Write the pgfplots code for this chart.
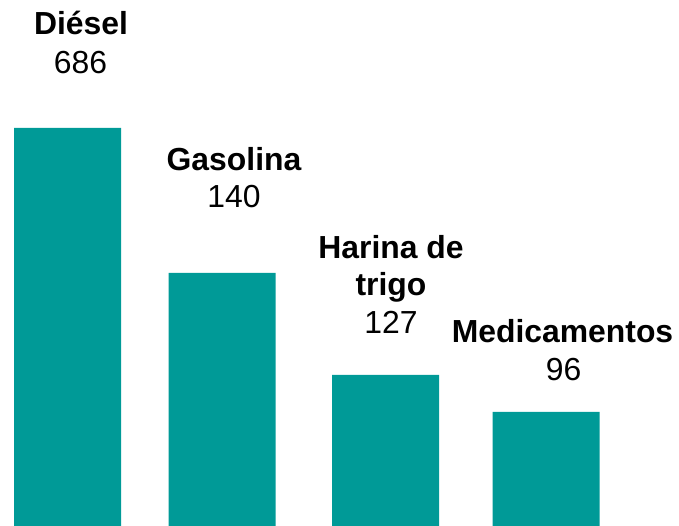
\documentclass[border=0pt]{standalone}
\usepackage{pgfplots}
\pgfplotsset{compat=1.18}
\usepackage{fontspec}
\setmainfont{Liberation Sans}
\definecolor{teal1}{HTML}{009A97}
\begin{document}
\begin{tikzpicture}
\begin{axis}[
  hide axis, scale only axis,
  width=679bp, height=526bp,
  xmin=0, xmax=679, ymin=0, ymax=526,
  clip=false,
  ybar, bar width=107, bar shift=0pt,
]
\path (axis cs:0,0) rectangle (axis cs:679,526);
\addplot[fill=teal1, draw=none] coordinates {(67.5,398) (222,253) (385.5,151) (546,114)};
\tikzset{lab/.style={anchor=base, inner sep=0pt, font=\fontsize{32}{38}\selectfont}}
\node[lab, font=\fontsize{32}{38}\selectfont\bfseries] at (axis cs:81,491) {Diésel};
\node[lab] at (axis cs:80.5,452) {686};
\node[lab, font=\fontsize{32}{38}\selectfont\bfseries] at (axis cs:234,355) {Gasolina};
\node[lab] at (axis cs:234,318) {140};
\node[lab, font=\fontsize{32}{38}\selectfont\bfseries] at (axis cs:391,267) {Harina de};
\node[lab, font=\fontsize{32}{38}\selectfont\bfseries] at (axis cs:391,230) {trigo};
\node[lab] at (axis cs:391,192) {127};
\node[lab, font=\fontsize{32}{38}\selectfont\bfseries] at (axis cs:562.5,183) {Medicamentos};
\node[lab] at (axis cs:563.5,145) {96};
\end{axis}
\end{tikzpicture}
\end{document}
